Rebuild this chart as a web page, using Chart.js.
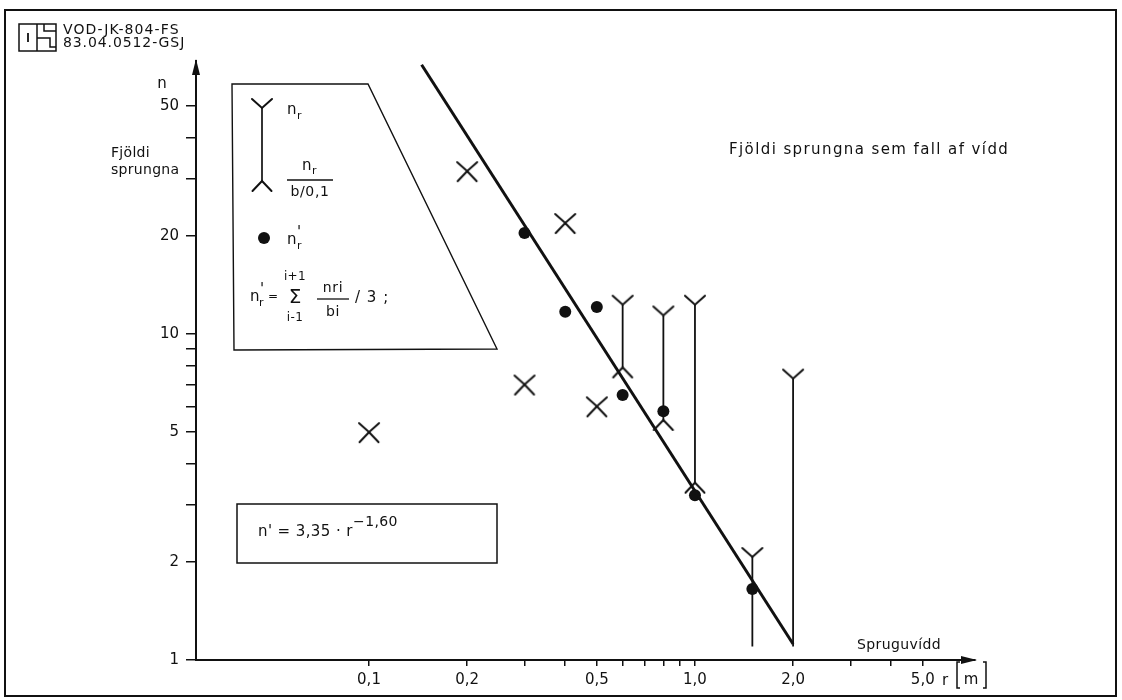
<!DOCTYPE html>
<html>
<head>
<meta charset="utf-8">
<script src="https://cdn.jsdelivr.net/npm/chart.js@4.4.1/dist/chart.umd.min.js"></script>
<style>
html, body { margin: 0; padding: 0; background: #fff; }
#wrap { width: 1122px; height: 700px; position: relative; }
</style>
</head>
<body>
<div id="wrap"><canvas id="sprungur"></canvas></div>
<script>
// r = crack width [m], n = number of cracks
// r <= 0,5: n_r and n_r/(b/0,1) are the same point -> drawn as X
var rCross = [0.1, 0.2, 0.3, 0.4, 0.5];
var nCross = [5.0, 31.6, 7.0, 21.9, 6.0];

// r >= 0,6: bar from n_r (Y) down to n_r/(b/0,1) (inverted Y)
var rBars = [0.6, 0.8, 1.0, 1.5, 2.0];
var nrTop = [12.3, 11.4, 12.3, 2.07, 7.3];
var nrLow = [7.9, 5.45, 3.5, null, null];
var stemEnd = [7.9, 5.45, 3.5, 1.1, 1.1];

// n'_r, running mean
var rDots = [0.3, 0.4, 0.5, 0.6, 0.8, 1.0, 1.5];
var nDots = [20.4, 11.7, 12.1, 6.5, 5.8, 3.2, 1.65];

// fitted line n' = 3,35 * r^-1,60 (end points as drawn)
var rFit = [0.145, 2.0];
var nFit = [67, 1.12];

var xTickVals = [0.1, 0.2, 0.5, 1, 2, 5];
var xTickText = ['0,1', '0,2', '0,5', '1,0', '2,0', '5,0'];
var xMinorVals = [0.3, 0.4, 0.6, 0.7, 0.8, 0.9, 3, 4];
var yTickVals = [1, 2, 5, 10, 20, 50];
var yTickText = ['1', '2', '5', '10', '20', '50'];
var yMinorVals = [3, 4, 6, 7, 8, 9, 30, 40];

var INK = '#111';
var FONT = '"DejaVu Sans", sans-serif';

function mark(up, down) {
    var c = document.createElement('canvas');
    c.width = 24; c.height = 24;
    var g = c.getContext('2d');
    g.strokeStyle = INK; g.lineWidth = 2; g.lineCap = 'round';
    g.beginPath();
    if (up) { g.moveTo(2, 3); g.lineTo(12, 12); g.lineTo(22, 3); }
    if (down) { g.moveTo(2.5, 22); g.lineTo(12, 12); g.lineTo(21.5, 22); }
    g.stroke();
    return c;
}
var yMark = mark(true, false);
var lamMark = mark(false, true);
var xMark = mark(true, true);

function pts(xs, ys) {
    var out = [];
    for (var i = 0; i < xs.length; i++) {
        if (ys[i] !== null) out.push({x: xs[i], y: ys[i]});
    }
    return out;
}

var stems = [];
rBars.forEach(function (r, i) {
    stems.push({x: r, y: nrTop[i]});
    stems.push({x: r, y: stemEnd[i]});
    stems.push({x: r, y: null});
});

function txt(ctx, s, x, y, size, align, sp) {
    ctx.font = size + 'px ' + FONT;
    ctx.textAlign = align || 'left';
    ctx.textBaseline = 'middle';
    ctx.letterSpacing = (sp || 0) + 'px';
    ctx.fillText(s, x, y);
}
function seg(ctx, pts, w) {
    ctx.lineWidth = w || 1.5;
    ctx.beginPath();
    ctx.moveTo(pts[0], pts[1]);
    for (var i = 2; i < pts.length; i += 2) ctx.lineTo(pts[i], pts[i + 1]);
    ctx.stroke();
}

var decor = {
    id: 'decor',
    afterDraw: function (chart) {
        var ctx = chart.ctx, a = chart.chartArea;
        ctx.save();
        ctx.fillStyle = INK; ctx.strokeStyle = INK;

        // frame
        ctx.lineWidth = 2;
        ctx.strokeRect(5, 10, 1111, 686);

        // logo + drawing number
        ctx.lineWidth = 1.5;
        ctx.strokeRect(19, 24, 37, 27);
        seg(ctx, [37, 24, 37, 51]);
        seg(ctx, [28, 33, 28, 42], 1.8);
        seg(ctx, [37, 38, 50, 38, 50, 47, 56, 47]);
        seg(ctx, [44, 24, 44, 31, 56, 31]);
        txt(ctx, 'VOD-JK-804-FS', 63, 30, 14, 'left', 1.1);
        txt(ctx, '83.04.0512-GSJ', 63, 43, 14, 'left', 0.9);

        // axis arrows
        ctx.beginPath();
        ctx.moveTo(a.left, a.top - 2); ctx.lineTo(a.left - 4, a.top + 14); ctx.lineTo(a.left + 4, a.top + 14);
        ctx.closePath(); ctx.fill();
        ctx.beginPath();
        ctx.moveTo(a.right + 2, a.bottom); ctx.lineTo(a.right - 14, a.bottom - 4); ctx.lineTo(a.right - 14, a.bottom + 4);
        ctx.closePath(); ctx.fill();

        // axis titles
        txt(ctx, 'n', 162, 84, 15, 'center');
        txt(ctx, 'Fjöldi', 111, 153, 14, 'left', 0.3);
        txt(ctx, 'sprungna', 111, 170, 14, 'left', 0.3);
        txt(ctx, 'Spruguvídd', 857, 645, 14, 'left', 0.4);
        txt(ctx, 'r', 945, 681, 15, 'center');
        seg(ctx, [960, 662, 957, 662, 957, 688, 960, 688]);
        txt(ctx, 'm', 971, 680, 15, 'center');
        seg(ctx, [983, 662, 986, 662, 986, 688, 983, 688]);

        // title
        txt(ctx, 'Fjöldi sprungna sem fall af vídd', 729, 150, 15, 'left', 1.4);

        // legend panel
        ctx.lineWidth = 1.4;
        ctx.beginPath();
        ctx.moveTo(232, 84); ctx.lineTo(368, 84); ctx.lineTo(497, 349); ctx.lineTo(234, 350);
        ctx.closePath(); ctx.stroke();

        seg(ctx, [262, 108, 262, 181], 1.7);
        ctx.drawImage(yMark, 250, 96);
        ctx.drawImage(lamMark, 250, 169);
        txt(ctx, 'n', 287, 110, 15, 'left');
        txt(ctx, 'r', 297, 116, 11, 'left');

        txt(ctx, 'n', 302, 166, 15, 'left');
        txt(ctx, 'r', 312, 171, 11, 'left');
        seg(ctx, [287, 180, 333, 180], 1.3);
        txt(ctx, 'b/0,1', 310, 192, 14, 'center', 0.6);

        ctx.beginPath(); ctx.arc(264, 238, 6, 0, Math.PI * 2); ctx.fill();
        txt(ctx, 'n', 287, 240, 15, 'left');
        txt(ctx, "'", 297, 233, 15, 'left');
        txt(ctx, 'r', 297, 246, 11, 'left');

        txt(ctx, 'n', 250, 297, 15, 'left');
        txt(ctx, "'", 260, 290, 15, 'left');
        txt(ctx, 'r', 259, 303, 11, 'left');
        txt(ctx, '=', 268, 297, 12, 'left');
        txt(ctx, 'Σ', 295, 298, 20, 'center');
        txt(ctx, 'i+1', 295, 277, 12, 'center', 0.4);
        txt(ctx, 'i-1', 295, 318, 12, 'center', 0.4);
        txt(ctx, 'nri', 333, 288, 14, 'center', 0.6);
        seg(ctx, [317, 299, 349, 299], 1.3);
        txt(ctx, 'bi', 333, 312, 14, 'center', 0.6);
        txt(ctx, '/ 3 ;', 355, 298, 15, 'left', 1);

        // fit equation box
        ctx.lineWidth = 1.5;
        ctx.strokeRect(237, 504, 260, 59);
        txt(ctx, "n' = 3,35 · r", 258, 532, 15, 'left', 0.4);
        txt(ctx, '−1,60', 353, 522, 14, 'left', 0.4);

        ctx.restore();
    }
};

var ctx = document.getElementById('sprungur').getContext('2d');
var chart = new Chart(ctx, {
    type: 'scatter',
    data: {
        datasets: [
            {
                label: 'fit', data: pts(rFit, nFit), showLine: true,
                borderColor: INK, borderWidth: 3, pointRadius: 0
            },
            {
                label: 'stems', data: stems, showLine: true, spanGaps: false,
                borderColor: INK, borderWidth: 1.8, pointRadius: 0
            },
            {
                label: 'n_r', data: pts(rBars, nrTop),
                pointStyle: yMark, pointRadius: 12
            },
            {
                label: 'n_r/(b/0,1)', data: pts(rBars, nrLow),
                pointStyle: lamMark, pointRadius: 12
            },
            {
                label: 'n_r = n_r/(b/0,1)', data: pts(rCross, nCross),
                pointStyle: xMark, pointRadius: 12
            },
            {
                label: "n'_r", data: pts(rDots, nDots),
                pointStyle: 'circle', pointRadius: 6,
                backgroundColor: INK, borderColor: INK, borderWidth: 0
            }
        ]
    },
    options: {
        responsive: true,
        maintainAspectRatio: false,
        animation: false,
        layout: { padding: { left: 0, top: 61, right: 147, bottom: 0 } },
        plugins: { legend: { display: false }, tooltip: { enabled: false } },
        scales: {
            x: {
                type: 'logarithmic', min: 0.02946, max: 7.23, bounds: 'data',
                afterFit: function (s) { s.height = 40; },
                afterBuildTicks: function (s) {
                    s.ticks = xTickVals.concat(xMinorVals).sort(function (a, b) { return a - b; })
                        .map(function (v) { return {value: v}; });
                },
                ticks: {
                    autoSkip: false, maxRotation: 0, color: INK, padding: 5,
                    font: { family: FONT, size: 15 },
                    callback: function (v) { var i = xTickVals.indexOf(v); return i < 0 ? '' : xTickText[i]; }
                },
                grid: { drawOnChartArea: false, tickLength: 6, color: INK, lineWidth: 1.5 },
                border: { display: true, color: INK, width: 2 }
            },
            y: {
                type: 'logarithmic', min: 1, max: 68.8, bounds: 'data',
                afterFit: function (s) { s.width = 196; },
                afterBuildTicks: function (s) {
                    s.ticks = yTickVals.concat(yMinorVals).sort(function (a, b) { return a - b; })
                        .map(function (v) { return {value: v}; });
                },
                ticks: {
                    autoSkip: false, color: INK, padding: 7,
                    font: { family: FONT, size: 15 },
                    callback: function (v) { var i = yTickVals.indexOf(v); return i < 0 ? '' : yTickText[i]; }
                },
                grid: { drawOnChartArea: false, tickLength: 10, color: INK, lineWidth: 1.5 },
                border: { display: true, color: INK, width: 2 }
            }
        }
    },
    plugins: [decor]
});
</script>
</body>
</html>
